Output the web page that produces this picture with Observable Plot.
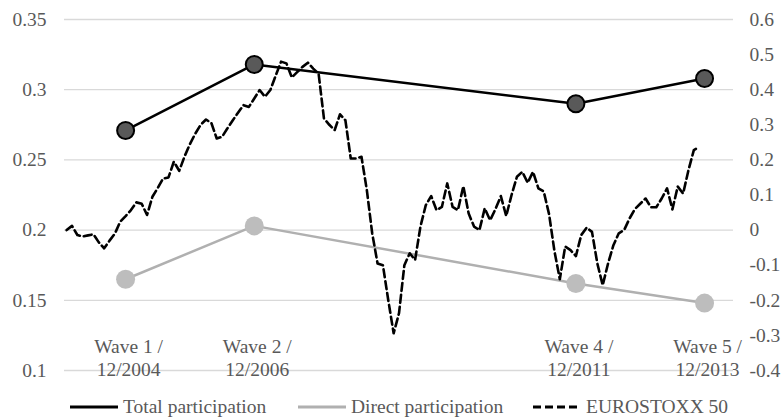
<!DOCTYPE html>
<html><head><meta charset="utf-8">
<script src="https://cdn.jsdelivr.net/npm/d3@7"></script>
<script src="https://cdn.jsdelivr.net/npm/@observablehq/plot@0.6"></script>
<style>
body{margin:0;background:#fff;}
#wrap{width:783px;height:420px;position:relative;font-family:"Liberation Serif",serif;overflow:hidden;}
#legend{position:absolute;left:0;top:385px;width:783px;height:35px;font-size:19.5px;color:#595959;}
.item{position:absolute;top:5px;height:34px;display:flex;align-items:center;white-space:nowrap;}
.item svg{margin-right:5px;}
</style></head><body>
<div id="wrap"><div id="chart"></div><div id="legend"></div></div>
<script>
// Wave categories (month index from Jan 2004 = 0)
const waveLabels = ["Wave 1 /\n12/2004", "Wave 2 /\n12/2006", "Wave 4 /\n12/2011", "Wave 5 /\n12/2013"];
const waveMonth = [11, 35, 95, 119];
const totalParticipation = [0.271, 0.318, 0.290, 0.308];
const directParticipation = [0.165, 0.203, 0.162, 0.148];

// EUROSTOXX 50 cumulative return, monthly from Jan 2004 (right axis)
const eurostoxx = [
  0.000, 0.012, -0.014, -0.018, -0.015, -0.012, -0.035, -0.052, -0.030, -0.010,
  0.024, 0.040, 0.057, 0.079, 0.075, 0.043, 0.095, 0.120, 0.147, 0.150,
  0.195, 0.169, 0.210, 0.245, 0.275, 0.300, 0.315, 0.305, 0.261, 0.266,
  0.290, 0.313, 0.335, 0.356, 0.351, 0.375, 0.399, 0.380, 0.399, 0.440,
  0.480, 0.475, 0.435, 0.450, 0.465, 0.477, 0.460, 0.446, 0.318, 0.300,
  0.285, 0.330, 0.313, 0.204, 0.204, 0.209, 0.114, -0.009, -0.095, -0.100,
  -0.200, -0.294, -0.237, -0.100, -0.066, -0.085, 0.010, 0.071, 0.097, 0.057,
  0.066, 0.133, 0.066, 0.057, 0.125, 0.047, 0.010, 0.000, 0.062, 0.028,
  0.060, 0.097, 0.040, 0.100, 0.152, 0.166, 0.135, 0.166, 0.119, 0.110,
  0.045, -0.060, -0.140, -0.047, -0.057, -0.074, -0.014, 0.007, -0.005, -0.095,
  -0.157, -0.095, -0.043, -0.009, 0.000, 0.033, 0.060, 0.075, 0.090, 0.065,
  0.065, 0.090, 0.119, 0.059, 0.124, 0.104, 0.171, 0.228, 0.237
];

const leftTicks = [0.1, 0.15, 0.2, 0.25, 0.3, 0.35];
const leftTickLabels = ["0.1", "0.15", "0.2", "0.25", "0.3", "0.35"];
const rightTicks = [-0.4, -0.3, -0.2, -0.1, 0, 0.1, 0.2, 0.3, 0.4, 0.5, 0.6];
const rightTickLabels = ["-0.4", "-0.3", "-0.2", "-0.1", "0", "0.1", "0.2", "0.3", "0.4", "0.5", "0.6"];

// map right axis onto left axis: right -0.4..0.6 <-> left 0.1..0.35
const toLeft = r => 0.2 + r * 0.25;

const waves = waveLabels.map((label, k) => ({label, m: waveMonth[k], total: totalParticipation[k], direct: directParticipation[k]}));
const stoxx = eurostoxx.map((v, i) => ({m: i, v: toLeft(v)}));

const grey = "#595959";
const chart = Plot.plot({
  width: 783,
  height: 385,
  marginTop: 19,
  marginBottom: 15,
  marginLeft: 64,
  marginRight: 50,
  style: {fontFamily: "Liberation Serif, serif", fontSize: "19.5px", color: grey, background: "#fff"},
  x: {domain: [-0.4, 124.4], axis: null},
  y: {domain: [0.1, 0.35], axis: null},
  marks: [
    Plot.gridY(leftTicks, {stroke: "#d9d9d9", strokeOpacity: 1, strokeWidth: 1.3}),
    Plot.axisY(leftTicks, {anchor: "left", tickSize: 0, tickPadding: 18, tickFormat: (d) => leftTickLabels[leftTicks.indexOf(d)], fontSize: 19.5, fill: grey}),
    Plot.axisY(rightTicks.map(toLeft), {anchor: "right", tickSize: 0, tickPadding: 16, textAnchor: "start", tickFormat: (d, i) => rightTickLabels[i], fontSize: 19.5, fill: grey}),
    Plot.text(waves, {x: "m", y: () => 0.1095, text: "label", lineAnchor: "middle", lineHeight: 1.17, fontSize: 19.5, fill: grey, dx: 3}),
    Plot.line(waves, {x: "m", y: "direct", stroke: "#b0b0b0", strokeWidth: 2.5}),
    Plot.dot(waves, {x: "m", y: "direct", r: 9.5, fill: "#bdbdbd", stroke: "none"}),
    Plot.line(waves, {x: "m", y: "total", stroke: "#000", strokeWidth: 2.5}),
    Plot.dot(waves, {x: "m", y: "total", r: 8.5, fill: "#595959", stroke: "#000", strokeWidth: 2}),
    Plot.line(stoxx, {x: "m", y: "v", stroke: "#000", strokeWidth: 2.6, strokeDasharray: "8,4", curve: "linear"})
  ]
});
document.getElementById("chart").appendChild(chart);

// legend
const legendItems = [
  {name: "Total participation", stroke: "#000", dash: null, left: 70},
  {name: "Direct participation", stroke: "#b0b0b0", dash: null, left: 298},
  {name: "EUROSTOXX 50", stroke: "#000", dash: "8,4", left: 533}
];
const legend = document.getElementById("legend");
for (const it of legendItems) {
  const div = document.createElement("div");
  div.className = "item";
  div.style.left = it.left + "px";
  div.innerHTML = `<svg width="48" height="6"><line x1="0" y1="3" x2="48" y2="3" stroke="${it.stroke}" stroke-width="3" ${it.dash ? `stroke-dasharray="${it.dash}"` : ""}/></svg><span>${it.name}</span>`;
  legend.appendChild(div);
}
</script>
</body></html>
